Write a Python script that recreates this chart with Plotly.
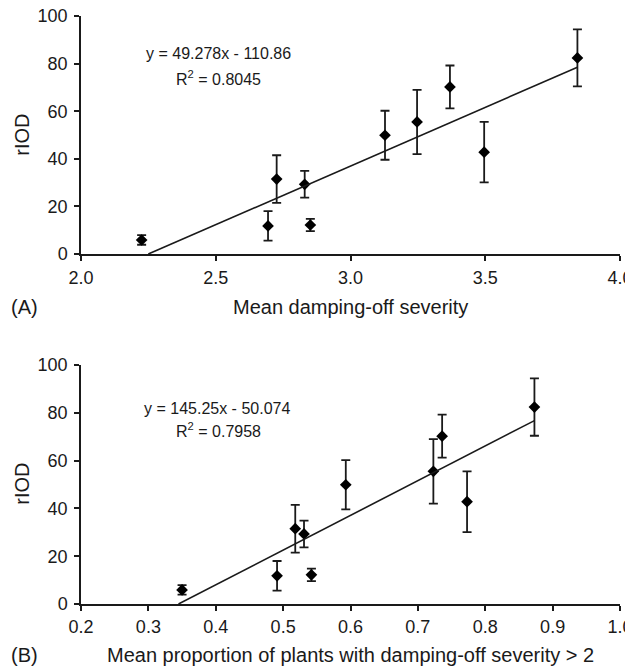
import plotly.graph_objects as go

# Data
severity = [2.225, 2.694, 2.726, 2.830, 2.851, 3.128, 3.247, 3.369, 3.496, 3.842]
proportion = [0.350, 0.491, 0.518, 0.531, 0.542, 0.593, 0.723, 0.736, 0.773, 0.873]
riod = [5.9, 11.8, 31.5, 29.3, 12.2, 49.9, 55.5, 70.2, 42.8, 82.4]
riod_err = [2.0, 6.2, 10.0, 5.6, 2.6, 10.3, 13.5, 9.0, 12.7, 12.0]

slope_a, intercept_a, r2_a = 49.278, -110.86, 0.8045
slope_b, intercept_b, r2_b = 145.25, -50.074, 0.7958

y_ticks = [0, 20, 40, 60, 80, 100]
x_ticks_a = [2.0, 2.5, 3.0, 3.5, 4.0]
x_ticks_b = [0.2, 0.3, 0.4, 0.5, 0.6, 0.7, 0.8, 0.9, 1.0]

FONT = "Liberation Sans, Arial, sans-serif"
INK = "#1a1a1a"

fig = go.Figure()

def add_panel(xs, slope, intercept, xa, ya):
    fig.add_trace(go.Scatter(
        x=xs, y=riod, mode="markers", xaxis=xa, yaxis=ya,
        marker=dict(symbol="diamond", size=9, color="black"),
        error_y=dict(type="data", array=riod_err, visible=True,
                     color=INK, thickness=1.8, width=4.5),
        showlegend=False, cliponaxis=False))
    x0 = -intercept / slope
    x1 = max(xs)
    fig.add_trace(go.Scatter(
        x=[x0, x1], y=[slope * x0 + intercept, slope * x1 + intercept],
        mode="lines", xaxis=xa, yaxis=ya,
        line=dict(color=INK, width=1.6), showlegend=False))

add_panel(severity, slope_a, intercept_a, "x", "y")
add_panel(proportion, slope_b, intercept_b, "x2", "y2")

axis_common = dict(showline=True, linecolor=INK, linewidth=1.5,
                   ticks="outside", ticklen=5, tickwidth=1.5, tickcolor=INK,
                   showgrid=False, zeroline=False, automargin=False,
                   ticklabeloverflow="allow",
                   tickfont=dict(family=FONT, size=18, color=INK))

fig.update_layout(
    width=625, height=660,
    margin=dict(l=73, r=13, t=8, b=64, autoexpand=False),
    paper_bgcolor="white", plot_bgcolor="white",
    font=dict(family=FONT, color=INK),
    xaxis=dict(domain=[0, 1], range=[2, 4], tickvals=x_ticks_a,
               tickformat=".1f", anchor="y", ticklabelstandoff=2, **axis_common),
    yaxis=dict(domain=[0.5952, 1.0], range=[0, 100], tickvals=y_ticks,
               anchor="x", ticklabelstandoff=3, **axis_common),
    xaxis2=dict(domain=[0, 1], range=[0.2, 1.0], tickvals=x_ticks_b,
                tickformat=".1f", anchor="y2", ticklabelstandoff=1, **axis_common),
    yaxis2=dict(domain=[0, 0.4065], range=[0, 100], tickvals=y_ticks,
                anchor="x2", ticklabelstandoff=3, **axis_common),
)

def ann(text, x, y, size, xanchor="center", angle=0):
    fig.add_annotation(text=text, x=x, y=y, xref="paper", yref="paper",
                       xanchor=xanchor, yanchor="middle", showarrow=False,
                       textangle=angle,
                       font=dict(family=FONT, size=size, color=INK))

# axis titles
ann("Mean damping-off severity", 0.5, 0.5051, 20)
ann("Mean proportion of plants with damping-off severity &gt; 2", 0.5, -0.0867, 20)
ann("(A)", -0.1336, 0.5051, 20, xanchor="left")
ann("(B)", -0.1336, -0.0867, 20, xanchor="left")
ann("rIOD", -0.110, 0.7976, 20, angle=-90)
ann("rIOD", -0.110, 0.204, 20, angle=-90)

# regression equations
ann(f"y = {slope_a}x - {abs(intercept_a)}", 0.2542, 0.9366, 16)
ann(f"R<sup>2</sup> = {r2_a}", 0.256, 0.894, 16)
ann(f"y = {slope_b}x - {abs(intercept_b)}", 0.2532, 0.3328, 16)
ann(f"R<sup>2</sup> = {r2_b}", 0.2557, 0.2959, 16)

fig.write_html("out.html")
